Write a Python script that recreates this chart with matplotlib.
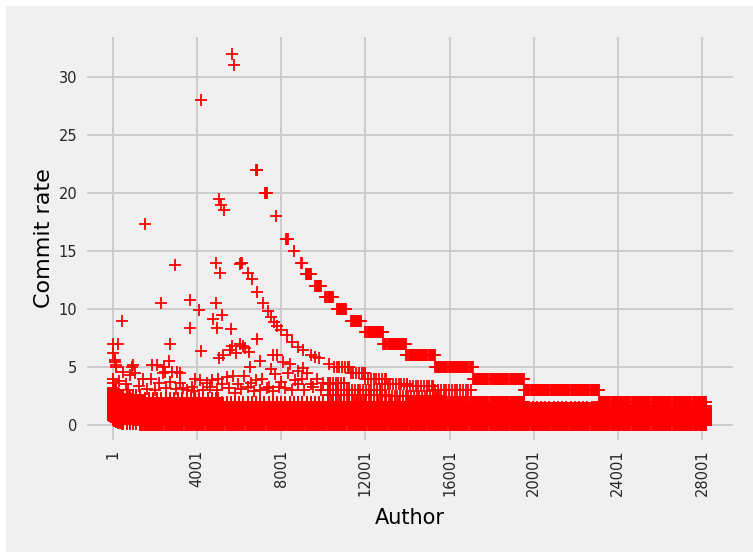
import matplotlib
matplotlib.use("Agg")
import matplotlib.pyplot as plt
from matplotlib.patches import Rectangle

# Single points (author index, commit rate)
peak_x = [5660, 5750, 4190, 1520, 2950, 4900, 5040, 5130, 5280, 7750, 8600, 6080, 6130, 6040, 6400, 6600, 6850, 7130, 7380, 7500, 7650, 7800, 8000, 8250, 8500, 8800, 9050, 9400, 9600, 9800, 10270, 5090, 2280, 3660, 4090, 4900, 5190, 4750, 4940, 5610, 3660, 430, 1, 240, 1, 100, 150, 2710, 2660, 4190]
peak_y = [32, 31, 28, 17.3, 13.8, 14, 19.5, 19, 18.5, 18, 15, 14, 14, 13.9, 13.1, 12.6, 11.5, 10.5, 9.8, 9.3, 8.9, 8.5, 8.2, 7.8, 7.2, 6.7, 6.5, 6, 5.9, 5.8, 5.3, 13.1, 10.5, 10.8, 9.9, 10.5, 9.5, 9.1, 8.4, 8.3, 8.4, 9, 7, 7, 6.2, 5.6, 5.2, 7, 5.5, 6.4]

scatter_x = [2090, 2425, 950, 900, 2470, 3040, 3185, 5040, 5230, 5560, 5660, 5850, 6040, 6180, 6280, 6470, 6850, 7000, 7610, 7800, 8080, 8420, 6520, 7510, 8800, 9030, 9220, 100, 150, 1850, 2380, 2820, 480, 1, 1, 810, 1050, 1430, 1810, 2190, 2710, 3190, 3900, 4140, 4700, 5000, 3860, 4470, 3340, 3760, 5400, 5700, 5950, 6250, 6550, 6800, 7100, 7400, 7700, 8000, 8300, 8650, 9000, 9400, 9700, 10000, 10300, 4300, 4600, 4950, 5200, 5500, 5800, 6100, 6400, 6700, 7000, 7300, 7600, 7900, 8200, 8500, 8800, 9100, 9500, 9900, 1250, 1600, 2000, 2500, 3000, 3500, 600, 300, 700]
scatter_y = [5.2, 5, 5.2, 5, 4.6, 4.6, 4.5, 5.8, 6, 6.5, 6.8, 6.2, 7, 6.8, 6.6, 6.3, 7.4, 5.5, 6, 6, 5.4, 5.3, 5, 4.8, 4.7, 4.9, 4.5, 5.4, 5, 5.2, 4.5, 4.6, 4.6, 4, 3.6, 4.3, 4.5, 4, 4, 3.6, 3.7, 3.6, 4, 3.9, 3.9, 4, 2.9, 3.6, 3.2, 3.3, 4.1, 4.2, 3.5, 4.2, 3.6, 3.9, 4, 3.3, 4.4, 3.7, 4.5, 3.9, 4, 3.5, 4, 3.6, 3.5, 3, 3.3, 3, 3.5, 3.2, 2.8, 3.1, 3.3, 2.9, 3, 3.2, 2.9, 3.3, 3.2, 3, 3.5, 3, 3.3, 3, 3.4, 3.1, 3, 3.2, 3.1, 3, 3.5, 3.8, 3]

# Runs of consecutive authors that share one rate: solid plateaus and the bottom of the mass
run_y = [22, 20, 16, 14, 13, 12, 11, 10, 9, 8, 7, 6, 5, 4, 3, 2, 2, 1.5, 1.5, 1.5, 0.02]
run_first = [6790, 7220, 8220, 8960, 9180, 9600, 10100, 10650, 11300, 12000, 12850, 13950, 15300, 17100, 19550, 23100, 14000, 1, 5000, 19550, 1300]
run_last = [6870, 7320, 8300, 9000, 9400, 9900, 10450, 11100, 11800, 12850, 13950, 15300, 17100, 19550, 23100, 28190, 19550, 5000, 14000, 23100, 28190]

# Runs with gaps between the markers
comb_y = [5, 4.5, 4, 3.5, 3.33, 3, 3, 3.6, 2.6, 2.5]
comb_first = [10500, 11300, 12000, 12800, 14000, 15200, 10200, 10200, 10200, 13000]
comb_last = [11200, 12000, 13000, 14000, 15200, 17000, 12700, 11000, 13000, 15500]

# Left edge of the solid mass: author, lowest rate, highest rate
corner_x = [1, 20, 40, 60, 90, 120, 160, 200, 260, 330, 410, 500, 650, 800, 950, 1100, 1300]
corner_low = [0.6, 0.45, 0.4, 0.35, 0.32, 0.3, 0.26, 0.22, 0.18, 0.15, 0.12, 0.1, 0.08, 0.07, 0.06, 0.05, 0.05]
corner_high = [3.2, 3.2, 3.1, 3.0, 3.0, 3.0, 2.8, 2.6, 2.6, 2.6, 2.6, 2.6, 2.6, 2.6, 2.6, 2.6, 2.6]

# Solid mass: first author, last author, highest rate, read as bands
mass_first = [1500, 5000, 19550, 23100]
mass_last = [5000, 19550, 23100, 28190]
mass_high = [2.3, 2.0, 1.5, 1.6]

tick_positions = [1, 4001, 8001, 12001, 16001, 20001, 24001, 28001]
ytick_positions = [0, 5, 10, 15, 20, 25, 30]
x_label = "Author"
y_label = "Commit rate"

RUN_STEP = 50      # spacing that makes adjacent markers merge as in the picture
COMB_STEP = 130
MASS_STEP = 200
ROW_STEP = 0.08

xs, ys = list(peak_x) + list(scatter_x), list(peak_y) + list(scatter_y)
for y, a, b in zip(run_y, run_first, run_last):
    for x in list(range(a, b, RUN_STEP)) + [b]:
        xs.append(x); ys.append(y)
for y, a, b in zip(comb_y, comb_first, comb_last):
    for x in list(range(a, b, COMB_STEP)) + [b]:
        xs.append(x); ys.append(y)
for x, lo, hi in zip(corner_x, corner_low, corner_high):
    n = int(round((hi - lo) / ROW_STEP))
    for i in range(n + 1):
        xs.append(x); ys.append(lo + i * ROW_STEP)
for a, b, hi in zip(mass_first, mass_last, mass_high):
    for x in list(range(a, b, MASS_STEP)) + [b]:
        n = int(round(hi / ROW_STEP))
        for i in range(n + 1):
            xs.append(x); ys.append(0.02 + i * ROW_STEP)

plt.style.use("fivethirtyeight")
W, H = 753, 552
fig = plt.figure(figsize=(W / 100, H / 100), dpi=100, facecolor="white")
fig.patches.append(Rectangle((6 / W, 0), 1 - 6 / W, 1 - 6 / H, transform=fig.transFigure,
                             facecolor="#f0f0f0", edgecolor="none", zorder=-10))
ax = fig.add_axes([87 / W, 1 - 440 / H, 646 / W, 403 / H], facecolor="#f0f0f0")
ax.scatter(xs, ys, marker="+", color="red", s=64, linewidths=1.3, clip_on=False, zorder=3)
ax.set_xlim(-1235, 29474)
ax.set_ylim(-1.29, 33.45)
ax.set_xticks(tick_positions)
ax.set_xticklabels([str(t) for t in tick_positions], rotation=90)
ax.set_yticks(ytick_positions)
ax.tick_params(axis="both", labelsize=10.5, length=0, pad=7, colors="#262626")
ax.grid(True, color="#cbcbcb", linewidth=1.4)
ax.set_axisbelow(True)
for s in ax.spines.values():
    s.set_visible(False)
ax.set_xlabel(x_label, fontsize=15, color="black", labelpad=8)
ax.set_ylabel(y_label, fontsize=16, color="black", labelpad=3)
fig.savefig("out.png", dpi=100, facecolor=fig.get_facecolor())
